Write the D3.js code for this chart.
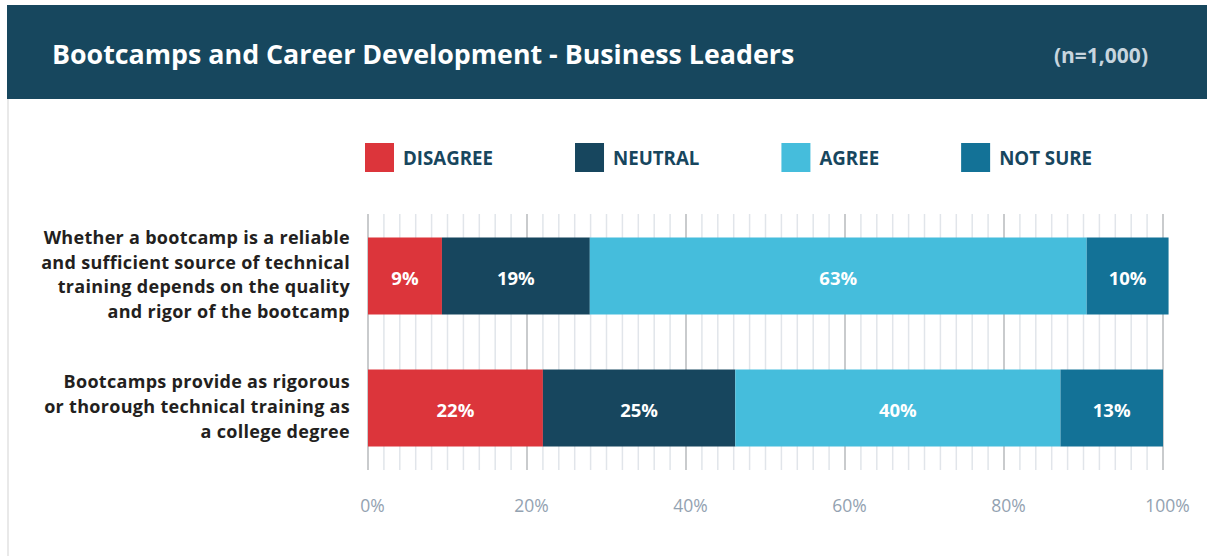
<!DOCTYPE html>
<html>
<head>
<meta charset="utf-8">
<script src="https://cdn.jsdelivr.net/npm/d3@7"></script>
<style>
  body { margin: 0; background: #fff; font-family: "Open Sans", sans-serif; }
</style>
</head>
<body>
<div id="chart"></div>
<script>
// data
const statements = [
    ["Whether a bootcamp is a reliable", "and sufficient source of technical", "training depends on the quality", "and rigor of the bootcamp"],
    ["Bootcamps provide as rigorous", "or thorough technical training as", "a college degree"]
];
const responses = ["DISAGREE", "NEUTRAL", "AGREE", "NOT SURE"];
const colors = ["#dc353b", "#17465e", "#45bddc", "#137297"];
const values = [
    [9.3, 18.6, 62.5, 10.3],
    [22, 24.2, 40.9, 12.9]
];
const valueLabels = [
    ["9%", "19%", "63%", "10%"],
    ["22%", "25%", "40%", "13%"]
];
const tickValues = [0, 20, 40, 60, 80, 100];

const width = 1207, height = 556;

const svg = d3.select("#chart").append("svg")
    .attr("width", width)
    .attr("height", height);

// header band
svg.append("rect").attr("x", 7).attr("y", 5).attr("width", width - 7).attr("height", 94).attr("fill", "#17475e");
svg.append("rect").attr("x", 7).attr("y", 99).attr("width", 2).attr("height", height - 99).attr("fill", "#e9e9e9");

svg.append("text")
    .attr("x", 52).attr("y", 64)
    .attr("fill", "#fff")
    .attr("font-size", "26.8px").attr("font-weight", 700)
    .text("Bootcamps and Career Development - Business Leaders");

svg.append("text")
    .attr("x", 1148).attr("y", 63)
    .attr("text-anchor", "end")
    .attr("fill", "#c7d5de")
    .attr("font-size", "21px").attr("font-weight", 700)
    .text("(n=1,000)");

// scales
const x = d3.scaleLinear().domain([0, 100]).range([368, 1163]);
const y = d3.scaleBand().domain(d3.range(statements.length)).range([214, 470]).paddingInner(0.4167).paddingOuter(0.178);

// legend, each item placed after the previous one's text
let lx = 365;
responses.forEach((d, i) => {
    const g = svg.append("g").attr("transform", `translate(${lx},143)`);
    g.append("rect").attr("width", 29).attr("height", 29).attr("fill", colors[i]);
    const t = g.append("text")
        .attr("x", 38).attr("y", 21.5)
        .attr("fill", "#17465e")
        .attr("font-size", "18.7px").attr("font-weight", 700)
        .text(d);
    lx += 38 + t.node().getComputedTextLength() + 82;
});

// grid lines
const minor = d3.range(0, 101, 2);
svg.append("g").selectAll("line").data(minor).enter().append("line")
    .attr("x1", d => x(d)).attr("x2", d => x(d))
    .attr("y1", 214).attr("y2", 470)
    .attr("stroke", d => d % 20 === 0 ? "#c9cbcd" : "#e1e5ea")
    .attr("stroke-width", d => d % 20 === 0 ? 2 : 1.5);

// bars
values.forEach((row, r) => {
    let acc = 0;
    const segs = row.map((v, i) => {
        const s = { start: acc, end: acc + v, i: i, label: valueLabels[r][i] };
        acc += v;
        return s;
    });
    const g = svg.append("g");
    g.selectAll("rect").data(segs).enter().append("rect")
        .attr("x", d => x(d.start))
        .attr("width", d => x(d.end) - x(d.start))
        .attr("y", y(r))
        .attr("height", y.bandwidth())
        .attr("fill", d => colors[d.i]);
    g.selectAll("text").data(segs).enter().append("text")
        .attr("x", d => (x(d.start) + x(d.end)) / 2)
        .attr("y", y(r) + y.bandwidth() / 2 + 9)
        .attr("text-anchor", "middle")
        .attr("fill", "#fff")
        .attr("font-size", "18.5px").attr("font-weight", 700)
        .text(d => d.label);

    // category label, one text per line
    const lines = statements[r];
    const lh = 24.6;
    const top = y(r) + y.bandwidth() / 2 - (lines.length - 1) * lh / 2 + 5;
    svg.append("g").selectAll("text").data(lines).enter().append("text")
        .attr("text-anchor", "end")
        .attr("fill", "#231f20")
        .attr("font-size", "18px").attr("font-weight", 700)
        .attr("letter-spacing", "0.3px")
        .attr("x", 350)
        .attr("y", (d, i) => top + i * lh)
        .text(d => d);
});

// axis
const axis = svg.append("g")
    .attr("transform", "translate(0,497)")
    .call(d3.axisBottom(x).tickValues(tickValues).tickFormat(d => d + "%").tickSize(0));
axis.select(".domain").remove();
axis.selectAll("text")
    .attr("dx", 4)
    .attr("fill", "#93a2b1")
    .attr("font-family", "Open Sans")
    .attr("font-size", "17.5px");
</script>
</body>
</html>
